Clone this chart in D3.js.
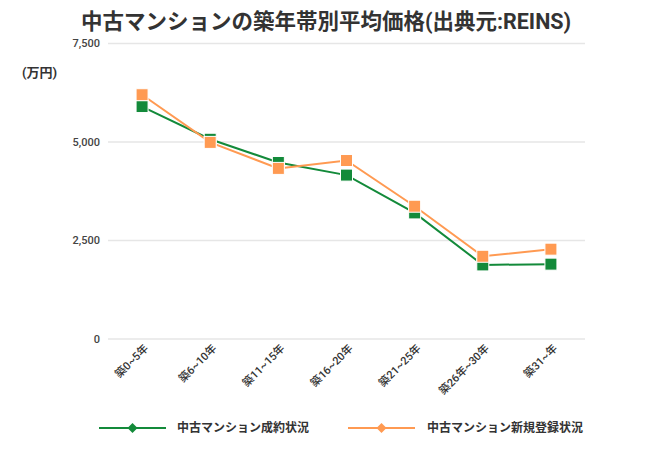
<!DOCTYPE html>
<html><head><meta charset="utf-8">
<script src="https://cdn.jsdelivr.net/npm/d3@7"></script>
<style>body{margin:0;background:#fff;}svg{display:block;font-family:Roboto,"Noto Sans CJK JP","Noto Sans",sans-serif;}</style>
</head><body>
<script>
const categories = ["築0~5年","築6~10年","築11~15年","築16~20年","築21~25年","築26年~30年","築31~年"];
const seriesNames = ["中古マンション成約状況","中古マンション新規登録状況"];
const contracted = [5900, 5070, 4480, 4160, 3200, 1880, 1900];
const registered = [6200, 4990, 4330, 4530, 3370, 2100, 2280];
const yTicks = [0, 2500, 5000, 7500];
const colors = ["#138a3a", "#ff9a52"];

const W = 650, H = 449;
const svg = d3.select("body").append("svg").attr("width", W).attr("height", H);
const x = d3.scalePoint().domain(categories).range([108, 585]).padding(0.5);
const y = d3.scaleLinear().domain([0, 7500]).range([339, 43.5]);

svg.append("text").attr("x", 326).attr("y", 29).attr("text-anchor", "middle")
  .attr("font-size", 21.5).attr("font-weight", "bold").attr("fill", "#333")
  .text("中古マンションの築年帯別平均価格(出典元:REINS)");

svg.append("text").attr("x", 22).attr("y", 77).attr("font-size", 13).attr("font-weight", "bold").attr("fill", "#333").text("(万円)");

const gy = svg.append("g");
yTicks.forEach(t => {
  gy.append("line").attr("x1", 108).attr("x2", 585).attr("y1", y(t)).attr("y2", y(t))
    .attr("stroke", "#e6e6e6").attr("stroke-width", 1.5);
  gy.append("text").attr("x", 100).attr("y", y(t)).attr("dy", "0.35em").attr("text-anchor", "end")
    .attr("font-size", 11).attr("font-weight", 500).attr("fill", "#444").text(d3.format(",")(t));
});

categories.forEach(c => {
  svg.append("text").attr("transform", `translate(${x(c)+7},${349}) rotate(-45)`)
    .attr("text-anchor", "end").attr("font-size", 11).attr("font-weight", 500).attr("fill", "#333").text(c);
});

const line = d3.line().x((d,i) => x(categories[i])).y(d => y(d));
[contracted, registered].forEach((data, si) => {
  svg.append("path").datum(data).attr("d", line).attr("fill", "none")
    .attr("stroke", colors[si]).attr("stroke-width", 2);
});
[contracted, registered].forEach((data, si) => {
  svg.selectAll(null).data(data).enter().append("rect")
    .attr("x", (d,i) => x(categories[i]) - 6).attr("y", d => y(d) - 6)
    .attr("width", 12).attr("height", 12).attr("fill", colors[si])
    .attr("stroke", "#fff").attr("stroke-width", 1);
});

const legend = [{x1: 99, x2: 166, tx: 177}, {x1: 348, x2: 415, tx: 427}];
legend.forEach((l, i) => {
  const ly = 428;
  svg.append("line").attr("x1", l.x1).attr("x2", l.x2).attr("y1", ly).attr("y2", ly)
    .attr("stroke", colors[i]).attr("stroke-width", 2);
  const cx = (l.x1 + l.x2) / 2;
  svg.append("path").attr("d", d3.symbol(d3.symbolSquare, 50)())
    .attr("transform", `translate(${cx},${ly}) rotate(45)`).attr("fill", colors[i]);
  svg.append("text").attr("x", l.tx).attr("y", ly).attr("dy", "0.35em")
    .attr("font-size", 12).attr("font-weight", "bold").attr("fill", "#333").text(seriesNames[i]);
});
</script>
</body></html>
